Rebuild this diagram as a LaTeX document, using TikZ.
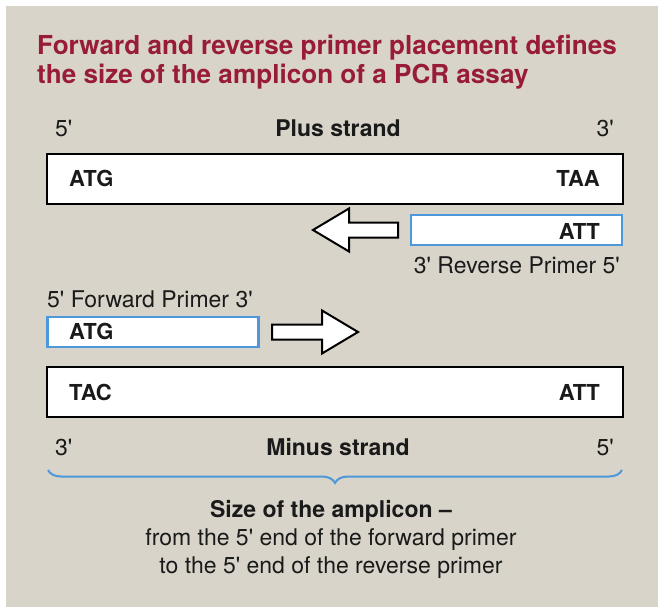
\documentclass[tikz,border=0pt]{standalone}
\usepackage{fontspec}
\setmainfont{TeX Gyre Heros}
\usepackage{xcolor}
\usepackage{tikz}
\usetikzlibrary{decorations.pathreplacing}
\definecolor{panelbg}{RGB}{216,212,201}
\definecolor{titlered}{RGB}{152,27,56}
\definecolor{primerblue}{RGB}{77,152,218}
\definecolor{inkblack}{RGB}{26,26,26}
\newcommand{\apos}{\textquotesingle}
\tikzset{
	strandbox/.style={draw=black, line width=2.4pt, fill=white, minimum width=576pt, minimum height=50pt, inner sep=0pt},
	primerbox/.style={draw=primerblue, line width=2.4pt, fill=white, minimum width=211pt, minimum height=30pt, inner sep=0pt},
	hollowarrow/.style={draw=black, line width=2pt, fill=white, line join=miter},
	seq/.style={font=\fontsize{22}{24}\selectfont\bfseries, text=inkblack, inner sep=0pt},
	txt/.style={font=\fontsize{23}{28}\selectfont, text=inkblack, inner sep=0pt},
	boldtxt/.style={font=\fontsize{23}{28}\selectfont\bfseries, text=inkblack, inner sep=0pt},
}

\begin{document}
\begin{tikzpicture}[x=1pt, y=-1pt]
		\useasboundingbox (0,0) rectangle (658,607);
		\fill [white] (0,0) rectangle (658,607);
		\fill [panelbg] (6,6) rectangle (658,607);
		
		\node [anchor=base west, align=left, inner sep=0pt, text=titlered, font=\fontsize{26.1}{29.5}\selectfont\bfseries] (title) at (37,84) {Forward and reverse primer placement defines\\the size of the amplicon of a PCR assay};
		
		\node [txt, anchor=base west] (plusfive) at (55,136) {5\apos};
		\node [boldtxt, anchor=base] (plusname) at (338,136) {Plus strand};
		\node [txt, anchor=base east] (plusthree) at (614,136) {3\apos};
		
		\node [strandbox] (plus) at (335,179) {};
		\node [seq, anchor=base west] (plusstart) at (69,186) {ATG};
		\node [seq, anchor=base east] (plusstop) at (600,186) {TAA};
		
		\node [primerbox] (rev) at (516.5,230) {};
		\node [seq, anchor=base east] (revseq) at (600,239) {ATT};
		\draw [hollowarrow] (313,230) -- (349,208.5) -- (349,222.5) -- (398,222.5) -- (398,237.5) -- (349,237.5) -- (349,251.5) -- cycle;
		\node [txt, anchor=base east] (revlabel) at (620,273) {3\apos{} Reverse Primer 5\apos};
		
		\node [txt, anchor=base west] (fwdlabel) at (47,307) {5\apos{} Forward Primer 3\apos};
		\node [primerbox] (fwd) at (153,332) {};
		\node [seq, anchor=base west] (fwdseq) at (69,339) {ATG};
		\draw [hollowarrow] (358,332) -- (322,310.5) -- (322,324.5) -- (272,324.5) -- (272,339.5) -- (322,339.5) -- (322,353.5) -- cycle;
		
		\node [strandbox] (minus) at (335,392) {};
		\node [seq, anchor=base west] (minusstart) at (69,400) {TAC};
		\node [seq, anchor=base east] (minusstop) at (600,400) {ATT};
		
		\node [txt, anchor=base west] (minusthree) at (55,455) {3\apos};
		\node [boldtxt, anchor=base] (minusname) at (338,455) {Minus strand};
		\node [txt, anchor=base east] (minusfive) at (614,455) {5\apos};
		
		\coordinate (braceleft) at (48,470);
		\coordinate (braceright) at (622,470);
		\draw [primerblue, line width=2pt, decorate, decoration={brace, mirror, amplitude=13pt}] (braceleft) -- (braceright);
		
		\node [txt, anchor=base, align=center] (amplicon) at (331,573) {\textbf{Size of the amplicon --}\\from the 5\apos{} end of the forward primer\\to the 5\apos{} end of the reverse primer};
	\end{tikzpicture}
\end{document}
